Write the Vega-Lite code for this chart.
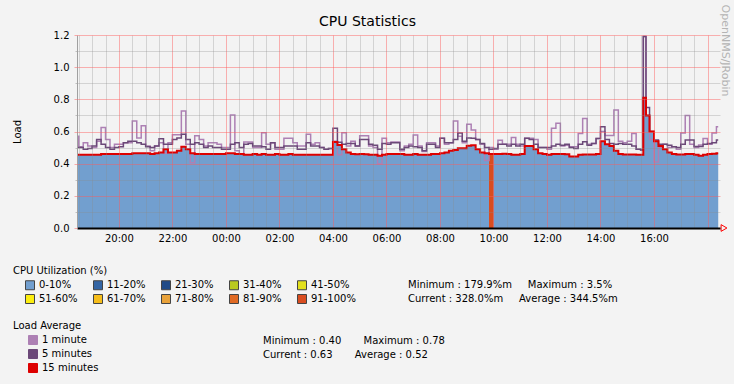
{
  "$schema": "https://vega.github.io/schema/vega-lite/v6.json",
  "width": 643,
  "height": 193,
  "autosize": {"type": "none"},
  "padding": {"left": 77, "top": 35, "right": 14, "bottom": 156},
  "background": "#f3f3f3",
  "title": {"text": "CPU Statistics", "fontSize": 14, "fontWeight": "normal", "color": "#000000", "anchor": "middle", "baseline": "alphabetic", "offset": -36, "dx": -31, "font": "DejaVu Sans"},
  "data": {"values": [
    {"t": "2010-01-01T18:20", "m1": 0.57, "m5": 0.50, "m15": 0.455},
    {"t": "2010-01-01T18:30", "m1": 0.505, "m5": 0.50, "m15": 0.455},
    {"t": "2010-01-01T18:40", "m1": 0.53, "m5": 0.49, "m15": 0.455},
    {"t": "2010-01-01T18:50", "m1": 0.51, "m5": 0.495, "m15": 0.455},
    {"t": "2010-01-01T19:00", "m1": 0.50, "m5": 0.51, "m15": 0.455},
    {"t": "2010-01-01T19:10", "m1": 0.54, "m5": 0.55, "m15": 0.455},
    {"t": "2010-01-01T19:20", "m1": 0.625, "m5": 0.52, "m15": 0.46},
    {"t": "2010-01-01T19:30", "m1": 0.55, "m5": 0.50, "m15": 0.46},
    {"t": "2010-01-01T19:40", "m1": 0.50, "m5": 0.49, "m15": 0.46},
    {"t": "2010-01-01T19:50", "m1": 0.52, "m5": 0.50, "m15": 0.46},
    {"t": "2010-01-01T20:00", "m1": 0.52, "m5": 0.505, "m15": 0.46},
    {"t": "2010-01-01T20:10", "m1": 0.53, "m5": 0.53, "m15": 0.46},
    {"t": "2010-01-01T20:20", "m1": 0.53, "m5": 0.54, "m15": 0.46},
    {"t": "2010-01-01T20:30", "m1": 0.665, "m5": 0.54, "m15": 0.465},
    {"t": "2010-01-01T20:40", "m1": 0.56, "m5": 0.53, "m15": 0.465},
    {"t": "2010-01-01T20:50", "m1": 0.636, "m5": 0.52, "m15": 0.465},
    {"t": "2010-01-01T21:00", "m1": 0.51, "m5": 0.505, "m15": 0.465},
    {"t": "2010-01-01T21:10", "m1": 0.48, "m5": 0.50, "m15": 0.46},
    {"t": "2010-01-01T21:20", "m1": 0.51, "m5": 0.51, "m15": 0.465},
    {"t": "2010-01-01T21:30", "m1": 0.53, "m5": 0.555, "m15": 0.47},
    {"t": "2010-01-01T21:40", "m1": 0.465, "m5": 0.52, "m15": 0.49},
    {"t": "2010-01-01T21:50", "m1": 0.53, "m5": 0.52, "m15": 0.47},
    {"t": "2010-01-01T22:00", "m1": 0.58, "m5": 0.55, "m15": 0.47},
    {"t": "2010-01-01T22:10", "m1": 0.58, "m5": 0.56, "m15": 0.48},
    {"t": "2010-01-01T22:20", "m1": 0.727, "m5": 0.583, "m15": 0.505},
    {"t": "2010-01-01T22:30", "m1": 0.52, "m5": 0.55, "m15": 0.49},
    {"t": "2010-01-01T22:40", "m1": 0.405, "m5": 0.52, "m15": 0.465},
    {"t": "2010-01-01T22:50", "m1": 0.573, "m5": 0.53, "m15": 0.46},
    {"t": "2010-01-01T23:00", "m1": 0.55, "m5": 0.52, "m15": 0.46},
    {"t": "2010-01-01T23:10", "m1": 0.51, "m5": 0.50, "m15": 0.46},
    {"t": "2010-01-01T23:20", "m1": 0.53, "m5": 0.51, "m15": 0.46},
    {"t": "2010-01-01T23:30", "m1": 0.53, "m5": 0.50, "m15": 0.46},
    {"t": "2010-01-01T23:40", "m1": 0.52, "m5": 0.50, "m15": 0.46},
    {"t": "2010-01-01T23:50", "m1": 0.50, "m5": 0.49, "m15": 0.46},
    {"t": "2010-01-02T00:00", "m1": 0.50, "m5": 0.49, "m15": 0.465},
    {"t": "2010-01-02T00:10", "m1": 0.703, "m5": 0.52, "m15": 0.465},
    {"t": "2010-01-02T00:20", "m1": 0.48, "m5": 0.53, "m15": 0.46},
    {"t": "2010-01-02T00:30", "m1": 0.46, "m5": 0.50, "m15": 0.46},
    {"t": "2010-01-02T00:40", "m1": 0.535, "m5": 0.52, "m15": 0.455},
    {"t": "2010-01-02T00:50", "m1": 0.535, "m5": 0.525, "m15": 0.455},
    {"t": "2010-01-02T01:00", "m1": 0.50, "m5": 0.51, "m15": 0.46},
    {"t": "2010-01-02T01:10", "m1": 0.50, "m5": 0.51, "m15": 0.455},
    {"t": "2010-01-02T01:20", "m1": 0.593, "m5": 0.505, "m15": 0.46},
    {"t": "2010-01-02T01:30", "m1": 0.52, "m5": 0.49, "m15": 0.455},
    {"t": "2010-01-02T01:40", "m1": 0.53, "m5": 0.53, "m15": 0.455},
    {"t": "2010-01-02T01:50", "m1": 0.49, "m5": 0.50, "m15": 0.46},
    {"t": "2010-01-02T02:00", "m1": 0.49, "m5": 0.50, "m15": 0.455},
    {"t": "2010-01-02T02:10", "m1": 0.558, "m5": 0.51, "m15": 0.455},
    {"t": "2010-01-02T02:20", "m1": 0.558, "m5": 0.51, "m15": 0.46},
    {"t": "2010-01-02T02:30", "m1": 0.53, "m5": 0.51, "m15": 0.455},
    {"t": "2010-01-02T02:40", "m1": 0.51, "m5": 0.49, "m15": 0.455},
    {"t": "2010-01-02T02:50", "m1": 0.51, "m5": 0.49, "m15": 0.455},
    {"t": "2010-01-02T03:00", "m1": 0.583, "m5": 0.53, "m15": 0.455},
    {"t": "2010-01-02T03:10", "m1": 0.52, "m5": 0.51, "m15": 0.455},
    {"t": "2010-01-02T03:20", "m1": 0.53, "m5": 0.51, "m15": 0.455},
    {"t": "2010-01-02T03:30", "m1": 0.50, "m5": 0.50, "m15": 0.455},
    {"t": "2010-01-02T03:40", "m1": 0.49, "m5": 0.49, "m15": 0.455},
    {"t": "2010-01-02T03:50", "m1": 0.495, "m5": 0.495, "m15": 0.455},
    {"t": "2010-01-02T04:00", "m1": 0.54, "m5": 0.62, "m15": 0.535},
    {"t": "2010-01-02T04:10", "m1": 0.456, "m5": 0.533, "m15": 0.516},
    {"t": "2010-01-02T04:20", "m1": 0.593, "m5": 0.52, "m15": 0.49},
    {"t": "2010-01-02T04:30", "m1": 0.51, "m5": 0.525, "m15": 0.47},
    {"t": "2010-01-02T04:40", "m1": 0.54, "m5": 0.525, "m15": 0.46},
    {"t": "2010-01-02T04:50", "m1": 0.51, "m5": 0.51, "m15": 0.458},
    {"t": "2010-01-02T05:00", "m1": 0.573, "m5": 0.55, "m15": 0.46},
    {"t": "2010-01-02T05:10", "m1": 0.573, "m5": 0.55, "m15": 0.458},
    {"t": "2010-01-02T05:20", "m1": 0.51, "m5": 0.52, "m15": 0.455},
    {"t": "2010-01-02T05:30", "m1": 0.50, "m5": 0.515, "m15": 0.455},
    {"t": "2010-01-02T05:40", "m1": 0.40, "m5": 0.49, "m15": 0.45},
    {"t": "2010-01-02T05:50", "m1": 0.558, "m5": 0.525, "m15": 0.455},
    {"t": "2010-01-02T06:00", "m1": 0.53, "m5": 0.52, "m15": 0.46},
    {"t": "2010-01-02T06:10", "m1": 0.535, "m5": 0.53, "m15": 0.46},
    {"t": "2010-01-02T06:20", "m1": 0.535, "m5": 0.53, "m15": 0.46},
    {"t": "2010-01-02T06:30", "m1": 0.48, "m5": 0.49, "m15": 0.46},
    {"t": "2010-01-02T06:40", "m1": 0.51, "m5": 0.50, "m15": 0.455},
    {"t": "2010-01-02T06:50", "m1": 0.52, "m5": 0.51, "m15": 0.455},
    {"t": "2010-01-02T07:00", "m1": 0.578, "m5": 0.505, "m15": 0.46},
    {"t": "2010-01-02T07:10", "m1": 0.51, "m5": 0.50, "m15": 0.455},
    {"t": "2010-01-02T07:20", "m1": 0.475, "m5": 0.48, "m15": 0.455},
    {"t": "2010-01-02T07:30", "m1": 0.53, "m5": 0.52, "m15": 0.455},
    {"t": "2010-01-02T07:40", "m1": 0.53, "m5": 0.52, "m15": 0.46},
    {"t": "2010-01-02T07:50", "m1": 0.51, "m5": 0.50, "m15": 0.46},
    {"t": "2010-01-02T08:00", "m1": 0.558, "m5": 0.558, "m15": 0.465},
    {"t": "2010-01-02T08:10", "m1": 0.52, "m5": 0.53, "m15": 0.47},
    {"t": "2010-01-02T08:20", "m1": 0.53, "m5": 0.53, "m15": 0.48},
    {"t": "2010-01-02T08:30", "m1": 0.665, "m5": 0.55, "m15": 0.485},
    {"t": "2010-01-02T08:40", "m1": 0.57, "m5": 0.59, "m15": 0.496},
    {"t": "2010-01-02T08:50", "m1": 0.53, "m5": 0.54, "m15": 0.496},
    {"t": "2010-01-02T09:00", "m1": 0.645, "m5": 0.56, "m15": 0.512},
    {"t": "2010-01-02T09:10", "m1": 0.61, "m5": 0.558, "m15": 0.515},
    {"t": "2010-01-02T09:20", "m1": 0.55, "m5": 0.55, "m15": 0.49},
    {"t": "2010-01-02T09:30", "m1": 0.52, "m5": 0.525, "m15": 0.47},
    {"t": "2010-01-02T09:40", "m1": 0.42, "m5": 0.50, "m15": 0.465},
    {"t": "2010-01-02T09:50", "m1": 0.50, "m5": 0.49, "m15": 0.46},
    {"t": "2010-01-02T10:00", "m1": 0.49, "m5": 0.495, "m15": 0.46},
    {"t": "2010-01-02T10:10", "m1": 0.545, "m5": 0.52, "m15": 0.46},
    {"t": "2010-01-02T10:20", "m1": 0.52, "m5": 0.52, "m15": 0.462},
    {"t": "2010-01-02T10:30", "m1": 0.52, "m5": 0.51, "m15": 0.46},
    {"t": "2010-01-02T10:40", "m1": 0.562, "m5": 0.52, "m15": 0.455},
    {"t": "2010-01-02T10:50", "m1": 0.52, "m5": 0.51, "m15": 0.455},
    {"t": "2010-01-02T11:00", "m1": 0.51, "m5": 0.52, "m15": 0.46},
    {"t": "2010-01-02T11:10", "m1": 0.558, "m5": 0.558, "m15": 0.51},
    {"t": "2010-01-02T11:20", "m1": 0.558, "m5": 0.55, "m15": 0.51},
    {"t": "2010-01-02T11:30", "m1": 0.55, "m5": 0.52, "m15": 0.49},
    {"t": "2010-01-02T11:40", "m1": 0.50, "m5": 0.50, "m15": 0.465},
    {"t": "2010-01-02T11:50", "m1": 0.50, "m5": 0.50, "m15": 0.46},
    {"t": "2010-01-02T12:00", "m1": 0.49, "m5": 0.50, "m15": 0.455},
    {"t": "2010-01-02T12:10", "m1": 0.62, "m5": 0.51, "m15": 0.46},
    {"t": "2010-01-02T12:20", "m1": 0.651, "m5": 0.52, "m15": 0.46},
    {"t": "2010-01-02T12:30", "m1": 0.51, "m5": 0.515, "m15": 0.46},
    {"t": "2010-01-02T12:40", "m1": 0.515, "m5": 0.52, "m15": 0.458},
    {"t": "2010-01-02T12:50", "m1": 0.505, "m5": 0.50, "m15": 0.445},
    {"t": "2010-01-02T13:00", "m1": 0.505, "m5": 0.495, "m15": 0.445},
    {"t": "2010-01-02T13:10", "m1": 0.588, "m5": 0.52, "m15": 0.455},
    {"t": "2010-01-02T13:20", "m1": 0.681, "m5": 0.537, "m15": 0.457},
    {"t": "2010-01-02T13:30", "m1": 0.52, "m5": 0.515, "m15": 0.457},
    {"t": "2010-01-02T13:40", "m1": 0.526, "m5": 0.526, "m15": 0.457},
    {"t": "2010-01-02T13:50", "m1": 0.557, "m5": 0.557, "m15": 0.46},
    {"t": "2010-01-02T14:00", "m1": 0.60, "m5": 0.63, "m15": 0.54},
    {"t": "2010-01-02T14:10", "m1": 0.575, "m5": 0.55, "m15": 0.52},
    {"t": "2010-01-02T14:20", "m1": 0.575, "m5": 0.526, "m15": 0.51},
    {"t": "2010-01-02T14:30", "m1": 0.734, "m5": 0.52, "m15": 0.48},
    {"t": "2010-01-02T14:40", "m1": 0.54, "m5": 0.526, "m15": 0.46},
    {"t": "2010-01-02T14:50", "m1": 0.53, "m5": 0.52, "m15": 0.457},
    {"t": "2010-01-02T15:00", "m1": 0.54, "m5": 0.52, "m15": 0.457},
    {"t": "2010-01-02T15:10", "m1": 0.588, "m5": 0.51, "m15": 0.457},
    {"t": "2010-01-02T15:20", "m1": 0.49, "m5": 0.49, "m15": 0.455},
    {"t": "2010-01-02T15:30", "m1": 0.485, "m5": 0.485, "m15": 0.455},
    {"t": "2010-01-02T15:36", "m1": 1.19, "m5": 1.19, "m15": 0.81},
    {"t": "2010-01-02T15:42", "m1": 0.70, "m5": 0.75, "m15": 0.70},
    {"t": "2010-01-02T15:50", "m1": 0.55, "m5": 0.60, "m15": 0.60},
    {"t": "2010-01-02T16:00", "m1": 0.41, "m5": 0.547, "m15": 0.54},
    {"t": "2010-01-02T16:10", "m1": 0.50, "m5": 0.52, "m15": 0.51},
    {"t": "2010-01-02T16:20", "m1": 0.52, "m5": 0.52, "m15": 0.49},
    {"t": "2010-01-02T16:30", "m1": 0.50, "m5": 0.515, "m15": 0.47},
    {"t": "2010-01-02T16:40", "m1": 0.505, "m5": 0.505, "m15": 0.46},
    {"t": "2010-01-02T16:50", "m1": 0.49, "m5": 0.50, "m15": 0.457},
    {"t": "2010-01-02T17:00", "m1": 0.59, "m5": 0.52, "m15": 0.457},
    {"t": "2010-01-02T17:10", "m1": 0.70, "m5": 0.547, "m15": 0.46},
    {"t": "2010-01-02T17:20", "m1": 0.52, "m5": 0.547, "m15": 0.46},
    {"t": "2010-01-02T17:30", "m1": 0.50, "m5": 0.506, "m15": 0.455},
    {"t": "2010-01-02T17:40", "m1": 0.516, "m5": 0.506, "m15": 0.45},
    {"t": "2010-01-02T17:50", "m1": 0.557, "m5": 0.52, "m15": 0.455},
    {"t": "2010-01-02T18:00", "m1": 0.52, "m5": 0.526, "m15": 0.46},
    {"t": "2010-01-02T18:10", "m1": 0.59, "m5": 0.53, "m15": 0.462},
    {"t": "2010-01-02T18:20", "m1": 0.63, "m5": 0.547, "m15": 0.465},
    {"t": "2010-01-02T18:24", "m1": 0.63, "m5": 0.547, "m15": 0.465}
  ]},
  "layer": [
    {
      "mark": {"type": "area", "interpolate": "step-after", "clip": true},
      "encoding": {
        "x": {"field": "t", "type": "temporal",
          "scale": {"domain": [{"year": 2010, "month": 1, "date": 1, "hours": 18, "minutes": 26}, {"year": 2010, "month": 1, "date": 2, "hours": 18, "minutes": 28}]},
          "axis": {"orient": "bottom", "values": [
            {"year": 2010, "month": 1, "date": 1, "hours": 18, "minutes": 30},
            {"year": 2010, "month": 1, "date": 1, "hours": 19, "minutes": 0},
            {"year": 2010, "month": 1, "date": 1, "hours": 19, "minutes": 30},
            {"year": 2010, "month": 1, "date": 1, "hours": 20, "minutes": 30},
            {"year": 2010, "month": 1, "date": 1, "hours": 21, "minutes": 0},
            {"year": 2010, "month": 1, "date": 1, "hours": 21, "minutes": 30},
            {"year": 2010, "month": 1, "date": 1, "hours": 22, "minutes": 30},
            {"year": 2010, "month": 1, "date": 1, "hours": 23, "minutes": 0},
            {"year": 2010, "month": 1, "date": 1, "hours": 23, "minutes": 30},
            {"year": 2010, "month": 1, "date": 2, "hours": 0, "minutes": 30},
            {"year": 2010, "month": 1, "date": 2, "hours": 1, "minutes": 0},
            {"year": 2010, "month": 1, "date": 2, "hours": 1, "minutes": 30},
            {"year": 2010, "month": 1, "date": 2, "hours": 2, "minutes": 30},
            {"year": 2010, "month": 1, "date": 2, "hours": 3, "minutes": 0},
            {"year": 2010, "month": 1, "date": 2, "hours": 3, "minutes": 30},
            {"year": 2010, "month": 1, "date": 2, "hours": 4, "minutes": 30},
            {"year": 2010, "month": 1, "date": 2, "hours": 5, "minutes": 0},
            {"year": 2010, "month": 1, "date": 2, "hours": 5, "minutes": 30},
            {"year": 2010, "month": 1, "date": 2, "hours": 6, "minutes": 30},
            {"year": 2010, "month": 1, "date": 2, "hours": 7, "minutes": 0},
            {"year": 2010, "month": 1, "date": 2, "hours": 7, "minutes": 30},
            {"year": 2010, "month": 1, "date": 2, "hours": 8, "minutes": 30},
            {"year": 2010, "month": 1, "date": 2, "hours": 9, "minutes": 0},
            {"year": 2010, "month": 1, "date": 2, "hours": 9, "minutes": 30},
            {"year": 2010, "month": 1, "date": 2, "hours": 10, "minutes": 30},
            {"year": 2010, "month": 1, "date": 2, "hours": 11, "minutes": 0},
            {"year": 2010, "month": 1, "date": 2, "hours": 11, "minutes": 30},
            {"year": 2010, "month": 1, "date": 2, "hours": 12, "minutes": 30},
            {"year": 2010, "month": 1, "date": 2, "hours": 13, "minutes": 0},
            {"year": 2010, "month": 1, "date": 2, "hours": 13, "minutes": 30},
            {"year": 2010, "month": 1, "date": 2, "hours": 14, "minutes": 30},
            {"year": 2010, "month": 1, "date": 2, "hours": 15, "minutes": 0},
            {"year": 2010, "month": 1, "date": 2, "hours": 15, "minutes": 30},
            {"year": 2010, "month": 1, "date": 2, "hours": 16, "minutes": 30},
            {"year": 2010, "month": 1, "date": 2, "hours": 17, "minutes": 0},
            {"year": 2010, "month": 1, "date": 2, "hours": 17, "minutes": 30}
          ], "grid": true, "gridColor": "#8c8c8c", "gridOpacity": 0.3, "labels": false, "ticks": false, "domain": false, "title": null, "zindex": 1}},
        "y": {"field": "m15", "type": "quantitative",
          "scale": {"domain": [0, 1.2], "nice": false, "zero": true},
          "axis": {"orient": "left", "values": [0.1, 0.3, 0.5, 0.7, 0.9, 1.1], "grid": true, "gridColor": "#8c8c8c", "gridOpacity": 0.3, "labels": false, "ticks": true, "tickSize": 2, "tickColor": "#8c8c8c", "tickOpacity": 0.5, "domain": true, "domainColor": "#a0a0a0", "title": null, "zindex": 1}},
        "fill": {"datum": "0-10%", "type": "nominal",
          "scale": {"domain": ["0-10%", "11-20%", "21-30%", "31-40%", "41-50%", "51-60%", "61-70%", "71-80%", "81-90%", "91-100%"],
                    "range": ["#729fcf", "#3465a4", "#204a87", "#b9c91e", "#e3e01c", "#fcee0f", "#f6bd1a", "#e9a23a", "#e06a24", "#d94d20"]},
          "legend": {"title": "CPU Utilization (%)", "orient": "none", "legendX": -64, "legendY": 231, "columns": 5, "direction": "horizontal", "gridAlign": "each", "columnPadding": 3, "symbolType": "square", "symbolSize": 81, "symbolStrokeColor": "#444444", "symbolStrokeWidth": 1, "symbolOffset": 12, "labelOffset": 4}}
      }
    },
    {
      "data": {"values": [{"start": "2010-01-02T09:50", "end": "2010-01-02T10:00", "cpu": 0.458}]},
      "mark": {"type": "rect", "clip": true},
      "encoding": {
        "x": {"field": "start", "type": "temporal",
          "scale": {"domain": [{"year": 2010, "month": 1, "date": 1, "hours": 18, "minutes": 26}, {"year": 2010, "month": 1, "date": 2, "hours": 18, "minutes": 28}]},
          "axis": {"orient": "bottom", "values": [
            {"year": 2010, "month": 1, "date": 1, "hours": 20, "minutes": 0},
            {"year": 2010, "month": 1, "date": 1, "hours": 22, "minutes": 0},
            {"year": 2010, "month": 1, "date": 2, "hours": 0, "minutes": 0},
            {"year": 2010, "month": 1, "date": 2, "hours": 2, "minutes": 0},
            {"year": 2010, "month": 1, "date": 2, "hours": 4, "minutes": 0},
            {"year": 2010, "month": 1, "date": 2, "hours": 6, "minutes": 0},
            {"year": 2010, "month": 1, "date": 2, "hours": 8, "minutes": 0},
            {"year": 2010, "month": 1, "date": 2, "hours": 10, "minutes": 0},
            {"year": 2010, "month": 1, "date": 2, "hours": 12, "minutes": 0},
            {"year": 2010, "month": 1, "date": 2, "hours": 14, "minutes": 0},
            {"year": 2010, "month": 1, "date": 2, "hours": 16, "minutes": 0},
            {"year": 2010, "month": 1, "date": 2, "hours": 18, "minutes": 0}
          ], "labelExpr": "hours(datum.value) == 18 ? '' : timeFormat(datum.value, '%H:%M')", "grid": true, "gridColor": "#ff5b5b", "gridOpacity": 0.45, "ticks": false, "labelPadding": 5, "labelFlush": false, "domain": true, "domainColor": "#000000", "domainWidth": 2, "title": null, "zindex": 1}},
        "x2": {"field": "end"},
        "y": {"field": "cpu", "type": "quantitative",
          "scale": {"domain": [0, 1.2], "nice": false, "zero": true},
          "axis": {"orient": "left", "values": [0, 0.2, 0.4, 0.6, 0.8, 1.0, 1.2], "format": ".1f", "grid": true, "gridColor": "#ff5b5b", "gridOpacity": 0.45, "ticks": true, "tickSize": 3, "tickColor": "#ff5b5b", "tickOpacity": 0.5, "labelPadding": 5, "domain": false, "title": "Load", "titleFontSize": 10, "titleX": -55, "titleBaseline": "bottom", "zindex": 1}},
        "y2": {"datum": 0},
        "fill": {"datum": "91-100%", "type": "nominal"}
      }
    },
    {
      "mark": {"type": "line", "interpolate": "step-after", "strokeWidth": 1.5, "clip": true},
      "encoding": {
        "x": {"field": "t", "type": "temporal", "axis": null},
        "y": {"field": "m1", "type": "quantitative", "axis": null},
        "stroke": {"datum": "1 minute", "type": "nominal",
          "scale": {"domain": ["1 minute", "5 minutes", "15 minutes"], "range": ["#ad80b4", "#6b4878", "#dd0000"]},
          "legend": {"title": "Load Average", "orient": "none", "legendX": -64, "legendY": 286, "columns": 1, "symbolType": "square", "symbolSize": 81, "symbolStrokeWidth": 1, "symbolOffset": 15, "labelOffset": 4,
            "encode": {"symbols": {"update": {"fill": {"scale": "stroke", "field": "value"}, "stroke": {"value": "#444444"}, "strokeWidth": {"value": 1}}}}}}
      }
    },
    {
      "mark": {"type": "line", "interpolate": "step-after", "strokeWidth": 1.5, "clip": true},
      "encoding": {
        "x": {"field": "t", "type": "temporal", "axis": null},
        "y": {"field": "m5", "type": "quantitative", "axis": null},
        "stroke": {"datum": "5 minutes", "type": "nominal"}
      }
    },
    {
      "mark": {"type": "line", "interpolate": "step-after", "strokeWidth": 2, "clip": true},
      "encoding": {
        "x": {"field": "t", "type": "temporal", "axis": null},
        "y": {"field": "m15", "type": "quantitative",
          "axis": {"orient": "right", "title": "OpenNMS/JRobin", "titleAngle": 90, "titleColor": "#b4b4b4", "titleFontSize": 11, "titleFontWeight": "normal", "titleX": 1, "titleY": 15, "titleAlign": "center", "titleBaseline": "alphabetic", "labels": false, "ticks": false, "domain": false, "grid": false}},
        "stroke": {"datum": "15 minutes", "type": "nominal"}
      }
    },
    {
      "data": {"values": [{"end": "2010-01-02T18:37", "base": 0}]},
      "mark": {"type": "point", "shape": "triangle-right", "size": 45, "filled": false, "color": "#ff0000", "strokeWidth": 1, "opacity": 1, "clip": false},
      "encoding": {
        "x": {"field": "end", "type": "temporal", "axis": null},
        "y": {"field": "base", "type": "quantitative", "axis": null}
      }
    },
    {
      "data": {"values": [
        {"cs": "Minimum : 179.9%m\u00a0\u00a0\u00a0\u00a0\u00a0Maximum : 3.5%", "ls": "Minimum : 0.40\u00a0\u00a0\u00a0\u00a0\u00a0\u00a0\u00a0Maximum : 0.78"},
        {"cs": "Current : 328.0%m\u00a0\u00a0\u00a0\u00a0\u00a0Average : 344.5%m", "ls": "Current : 0.63\u00a0\u00a0\u00a0\u00a0\u00a0\u00a0\u00a0Average : 0.52"}
      ]},
      "mark": {"type": "point", "opacity": 0},
      "encoding": {
        "shape": {"field": "cs", "type": "nominal",
          "scale": {"domain": ["Minimum : 179.9%m\u00a0\u00a0\u00a0\u00a0\u00a0Maximum : 3.5%", "Current : 328.0%m\u00a0\u00a0\u00a0\u00a0\u00a0Average : 344.5%m"]},
          "legend": {"title": null, "orient": "none", "legendX": 321, "legendY": 245, "symbolSize": 1, "symbolOpacity": 0, "labelOffset": 0, "labelLimit": 500, "rowPadding": 4}},
        "strokeDash": {"field": "ls", "type": "nominal",
          "scale": {"domain": ["Minimum : 0.40\u00a0\u00a0\u00a0\u00a0\u00a0\u00a0\u00a0Maximum : 0.78", "Current : 0.63\u00a0\u00a0\u00a0\u00a0\u00a0\u00a0\u00a0Average : 0.52"]},
          "legend": {"title": null, "orient": "none", "legendX": 176, "legendY": 301, "symbolSize": 1, "symbolOpacity": 0, "labelOffset": 0, "labelLimit": 500, "rowPadding": 4}}
      }
    }
  ],
  "resolve": {"axis": {"x": "independent", "y": "independent"}},
  "config": {
    "font": "DejaVu Sans",
    "view": {"fill": "#ffffff", "stroke": null},
    "axis": {"labelFont": "DejaVu Sans", "labelFontSize": 10, "labelColor": "#000000", "titleFont": "DejaVu Sans", "titleColor": "#000000", "titleFontWeight": "normal"},
    "legend": {"labelFont": "DejaVu Sans", "labelFontSize": 10, "labelColor": "#000000", "titleFont": "DejaVu Sans", "titleFontSize": 10, "titleFontWeight": "normal", "titleColor": "#000000", "labelLimit": 500, "padding": 0, "rowPadding": 0, "titlePadding": 4, "labelOffset": 4}
  }
}
